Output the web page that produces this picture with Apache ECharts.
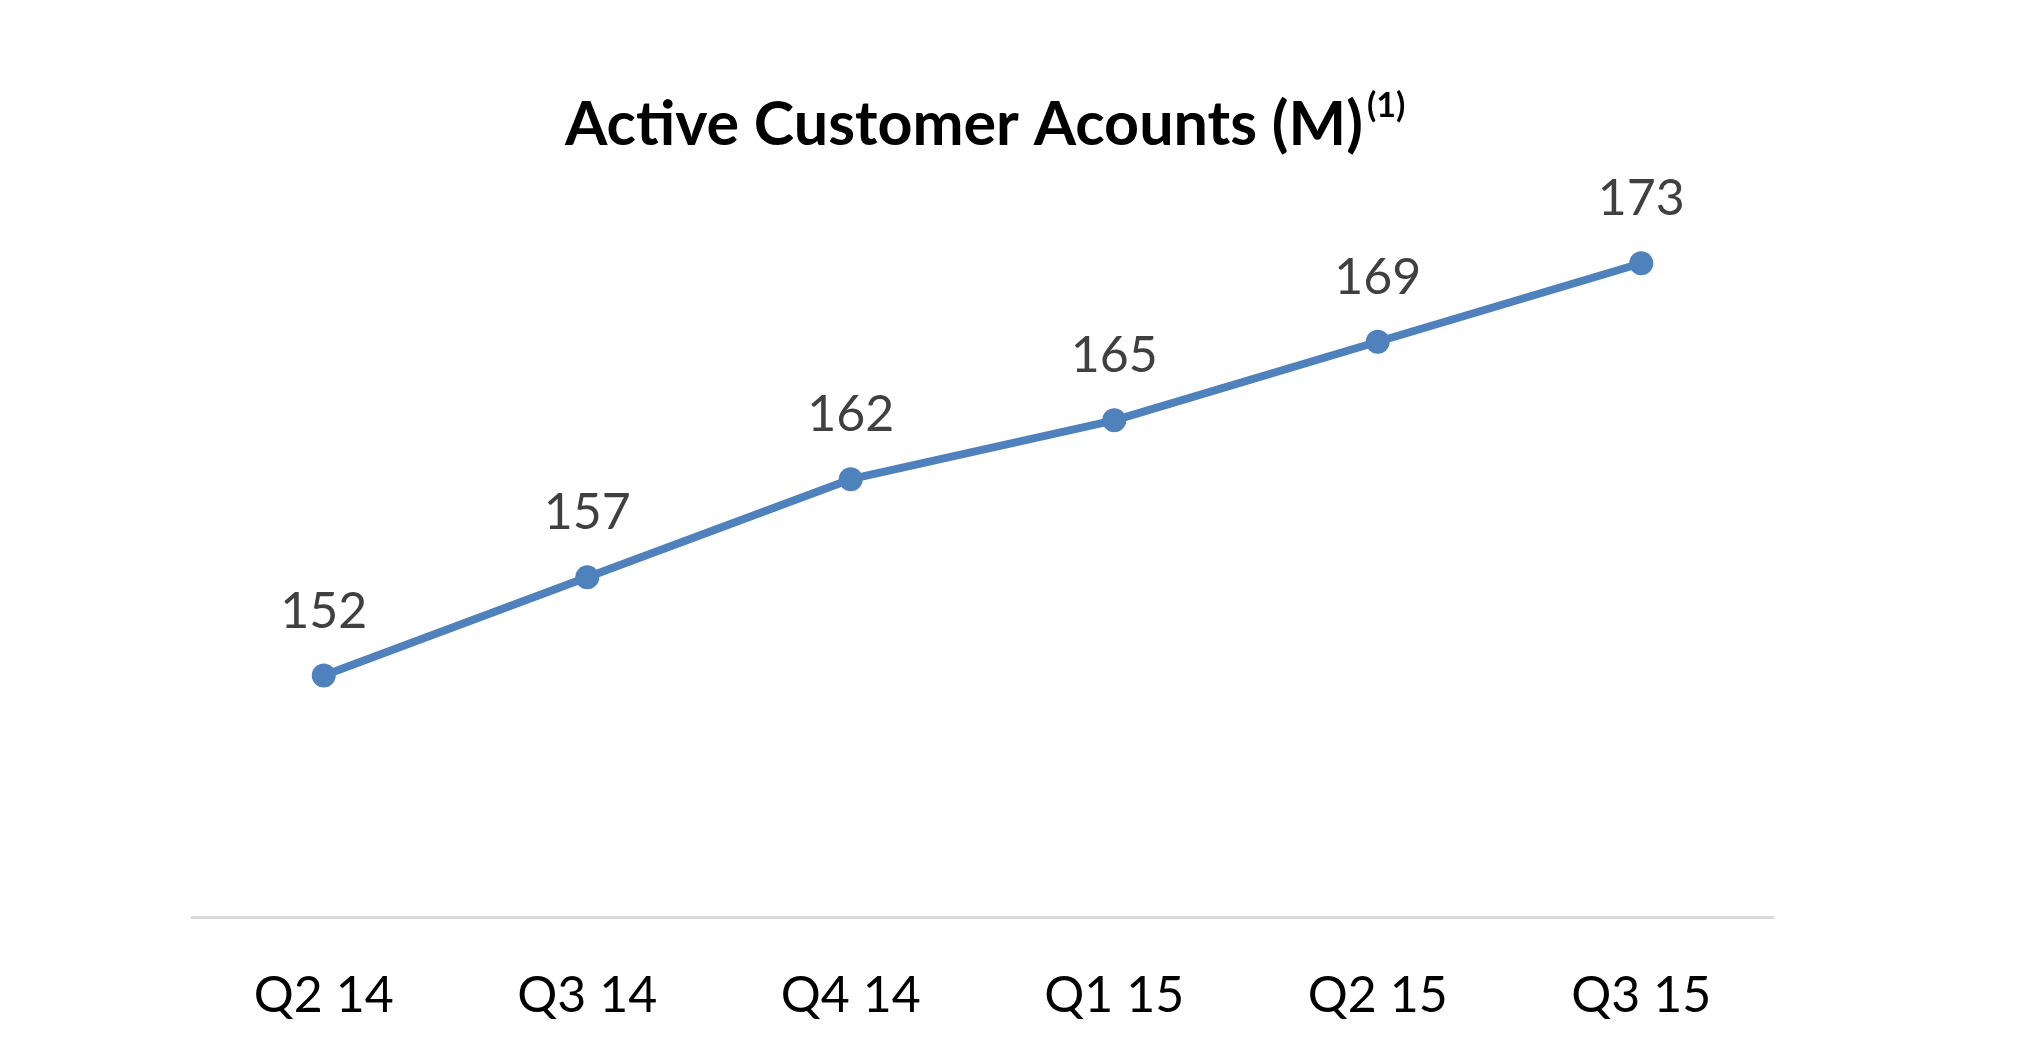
<!DOCTYPE html>
<html>
<head>
<meta charset="utf-8">
<script src="https://cdn.jsdelivr.net/npm/echarts@6/dist/echarts.min.js"></script>
<style>
  html, body { margin: 0; padding: 0; background: #fff; }
  #main { width: 2032px; height: 1057px; }
</style>
</head>
<body>
<div id="main"></div>
<script>
// 季度
var quarters = ['Q2 14', 'Q3 14', 'Q4 14', 'Q1 15', 'Q2 15', 'Q3 15'];
// 活跃账户 (百万)
var accounts = [152, 157, 162, 165, 169, 173];

var chart = echarts.init(document.getElementById('main'));

var option = {
    backgroundColor: '#fff',
    animation: false,
    title: {
        text: '{a|Active Customer Acounts (M)}{b|(1)}',
        left: 560,
        top: 84,
        textStyle: {
            rich: {
                a: {
                    fontFamily: 'Lato',
                    fontWeight: 'bold',
                    fontSize: 61,
                    lineHeight: 72,
                    color: '#000'
                },
                b: {
                    fontFamily: 'Lato',
                    fontWeight: 'bold',
                    fontSize: 34,
                    color: '#000',
                    verticalAlign: 'top',
                    padding: [0, 0, 0, 4]
                }
            }
        }
    },
    grid: {
        left: 192,
        right: 259,
        top: 224,
        bottom: 140
    },
    xAxis: {
        type: 'category',
        data: quarters,
        boundaryGap: true,
        axisLine: {
            lineStyle: { color: '#d9d9d9', width: 3 }
        },
        axisTick: { show: false },
        axisLabel: {
            margin: 54,
            fontFamily: 'Lato',
            fontSize: 50,
            color: '#000'
        }
    },
    yAxis: {
        type: 'value',
        min: 139.7,
        max: 175,
        show: false,
        splitLine: { show: false }
    },
    series: [{
        type: 'line',
        data: accounts,
        symbol: 'circle',
        symbolSize: 24,
        lineStyle: { color: '#4f81bd', width: 8 },
        itemStyle: { color: '#4f81bd' },
        label: {
            show: true,
            position: 'top',
            distance: 27,
            fontFamily: 'Lato',
            fontSize: 50,
            color: '#404040'
        }
    }]
};

chart.setOption(option);
</script>
</body>
</html>
